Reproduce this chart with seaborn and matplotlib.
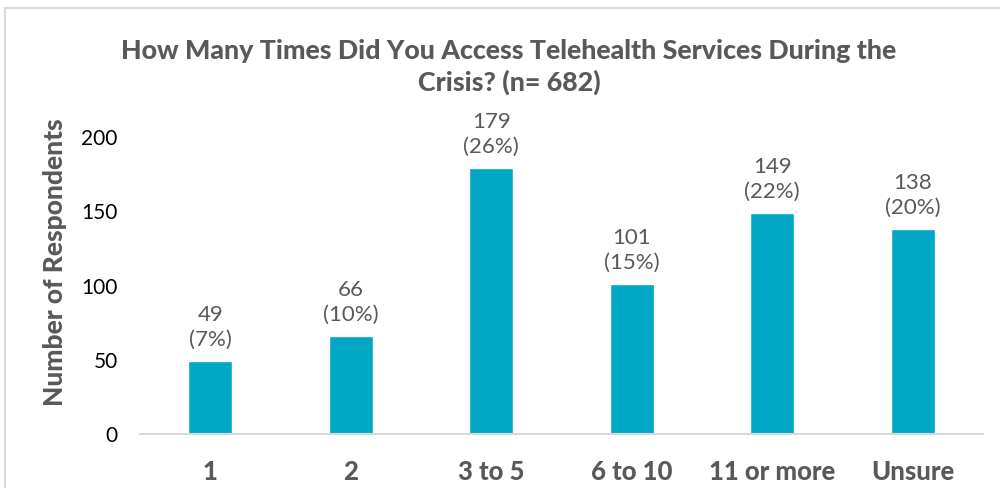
import matplotlib
matplotlib.use("Agg")
import matplotlib.pyplot as plt
import matplotlib.patches as patches
import seaborn as sns
import pandas as pd

# Survey responses
categories = ["1", "2", "3 to 5", "6 to 10", "11 or more", "Unsure"]
counts = [49, 66, 179, 101, 149, 138]
total_n = 682
y_ticks = [0, 50, 100, 150, 200]

BAR_COLOR = "#00A8C6"
TEXT_GRAY = "#595959"
AXIS_GRAY = "#D9D9D9"

sns.set_theme(style="white")
plt.rcParams["font.family"] = ["Lato", "DejaVu Sans"]

df = pd.DataFrame({"category": categories, "count": counts})

fig = plt.figure(figsize=(10, 4.88), dpi=100)
ax = fig.add_axes([0.14, 1 - 434 / 488, 0.843, (434 - 137) / 488])

sns.barplot(data=df, x="category", y="count", color=BAR_COLOR, width=0.31,
            saturation=1, ax=ax)

ax.set_ylim(0, 200)
ax.set_xlim(-0.5, len(categories) - 0.5)
ax.set_yticks(y_ticks)
ax.set_yticklabels([str(t) for t in y_ticks], fontsize=15, color="black")
ax.tick_params(axis="y", length=0, pad=16)
ax.tick_params(axis="x", length=0, pad=19)
for lbl in ax.get_xticklabels():
    lbl.set_fontsize(18.5)
    lbl.set_fontweight(900)
    lbl.set_color(TEXT_GRAY)

ax.set_xlabel("")
ax.set_ylabel("")
for side in ["top", "right", "left"]:
    ax.spines[side].set_visible(False)
ax.spines["bottom"].set_color(AXIS_GRAY)
ax.spines["bottom"].set_linewidth(1.5)

# Value labels: count and share of respondents
for i, v in enumerate(counts):
    pct = round(100 * v / total_n)
    ax.annotate(f"{v}\n({pct}%)", xy=(i, v), xytext=(0, 8),
                textcoords="offset points", ha="center", va="bottom",
                fontsize=16, color=TEXT_GRAY, linespacing=1.3,
                annotation_clip=False)

fig.text(0.055, 1 - 262 / 488, "Number of Respondents", rotation=90,
         ha="center", va="center", fontsize=19, fontweight=900,
         color=TEXT_GRAY)

fig.text(0.509, 1 - 67 / 488,
         "How Many Times Did You Access Telehealth Services During the\nCrisis? (n= 682)",
         ha="center", va="center", fontsize=19.3, fontweight=900,
         color=TEXT_GRAY, linespacing=1.33)

# Chart frame
frame = patches.Rectangle((5 / 1000, -0.2), 1.2, 1.2 - 8 / 488,
                          transform=fig.transFigure, fill=False,
                          edgecolor=AXIS_GRAY, linewidth=1.5)
fig.patches.append(frame)

fig.savefig("out.png", dpi=100, facecolor="white")
